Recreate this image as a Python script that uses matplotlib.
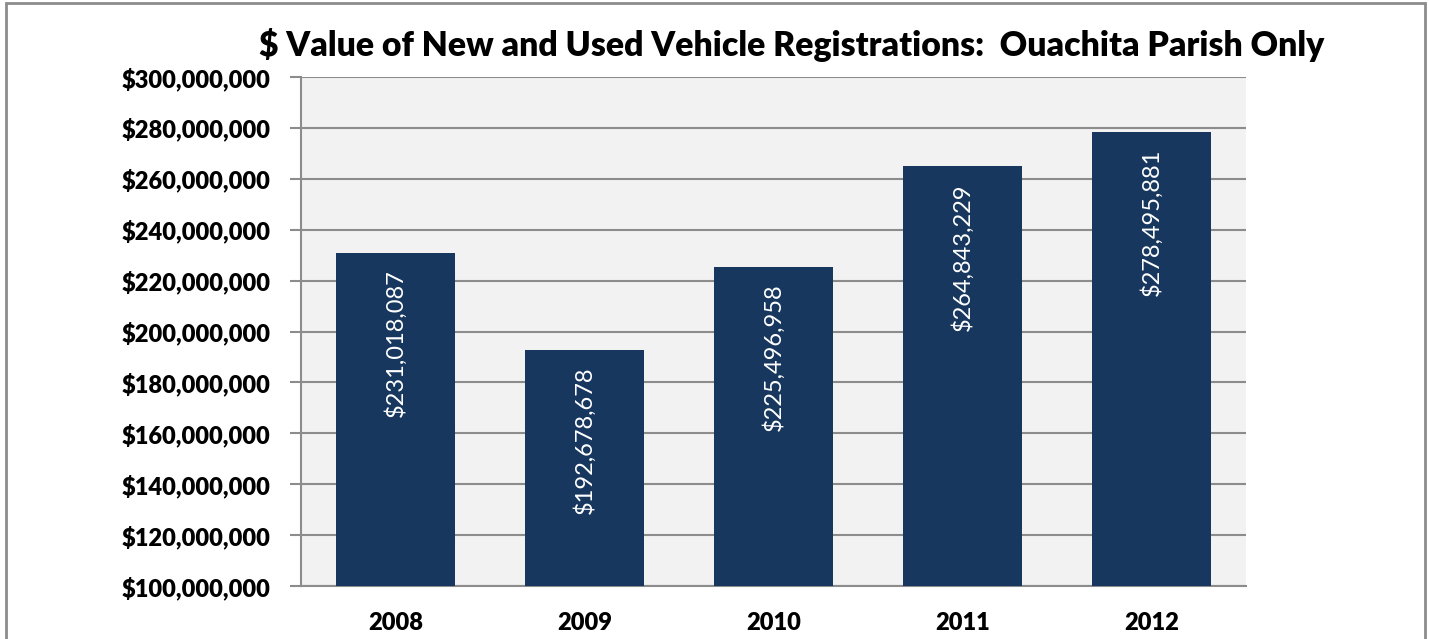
import matplotlib.pyplot as plt
from matplotlib.patches import Rectangle
from matplotlib.ticker import FuncFormatter

# chart data
years = ['2008', '2009', '2010', '2011', '2012']
values = [231018087, 192678678, 225496958, 264843229, 278495881]
y_ticks = list(range(100000000, 300000001, 20000000))

plt.rcParams['font.family'] = ['Lato', 'DejaVu Sans']

fig = plt.figure(figsize=(14.29, 6.39), dpi=100)
# outer frame, bottom edge falls just outside the image like the original
fig.patches.append(Rectangle((0.0045, -0.02), 0.9925, 1.015, transform=fig.transFigure,
                             fill=False, edgecolor='#8c8c8c', linewidth=2))

ax = fig.add_axes([0.2106, 0.0829, 0.6613, 0.7966])
ax.set_facecolor('#f2f2f2')

x = range(len(years))
bars = ax.bar(x, values, width=0.625, color='#17375e', zorder=3)

for xi, v in zip(x, values):
    ax.annotate('${:,}'.format(v), xy=(xi, v), xytext=(0, -12), textcoords='offset points',
                rotation=90, ha='center', va='top', color='white', fontsize=17,
                zorder=4)

ax.set_ylim(100000000, 300000000)
ax.set_xlim(-0.5, len(years) - 0.5)
ax.set_yticks(y_ticks)
ax.yaxis.set_major_formatter(FuncFormatter(lambda v, p: '${:,.0f}'.format(v)))
ax.set_xticks(list(x))
ax.set_xticklabels(years)

ax.grid(axis='y', color='#8c8c8c', linewidth=1.5, zorder=1)
ax.set_axisbelow(True)
for s in ['top', 'right']:
    ax.spines[s].set_visible(False)
ax.spines['left'].set_color('#8c8c8c')
ax.spines['bottom'].set_color('#8c8c8c')
ax.spines['left'].set_linewidth(1.5)
ax.spines['bottom'].set_linewidth(1.5)

ax.tick_params(axis='y', length=8, color='#8c8c8c', width=1.5, pad=14, labelsize=17)
ax.tick_params(axis='x', length=0, pad=19, labelsize=17)
for lbl in ax.get_yticklabels() + ax.get_xticklabels():
    lbl.set_fontweight('heavy')

fig.text(0.554, 0.93, '$ Value of New and Used Vehicle Registrations:  Ouachita Parish Only',
         ha='center', va='center', fontsize=24.3, fontweight='heavy')

plt.savefig('out.png', dpi=100)
